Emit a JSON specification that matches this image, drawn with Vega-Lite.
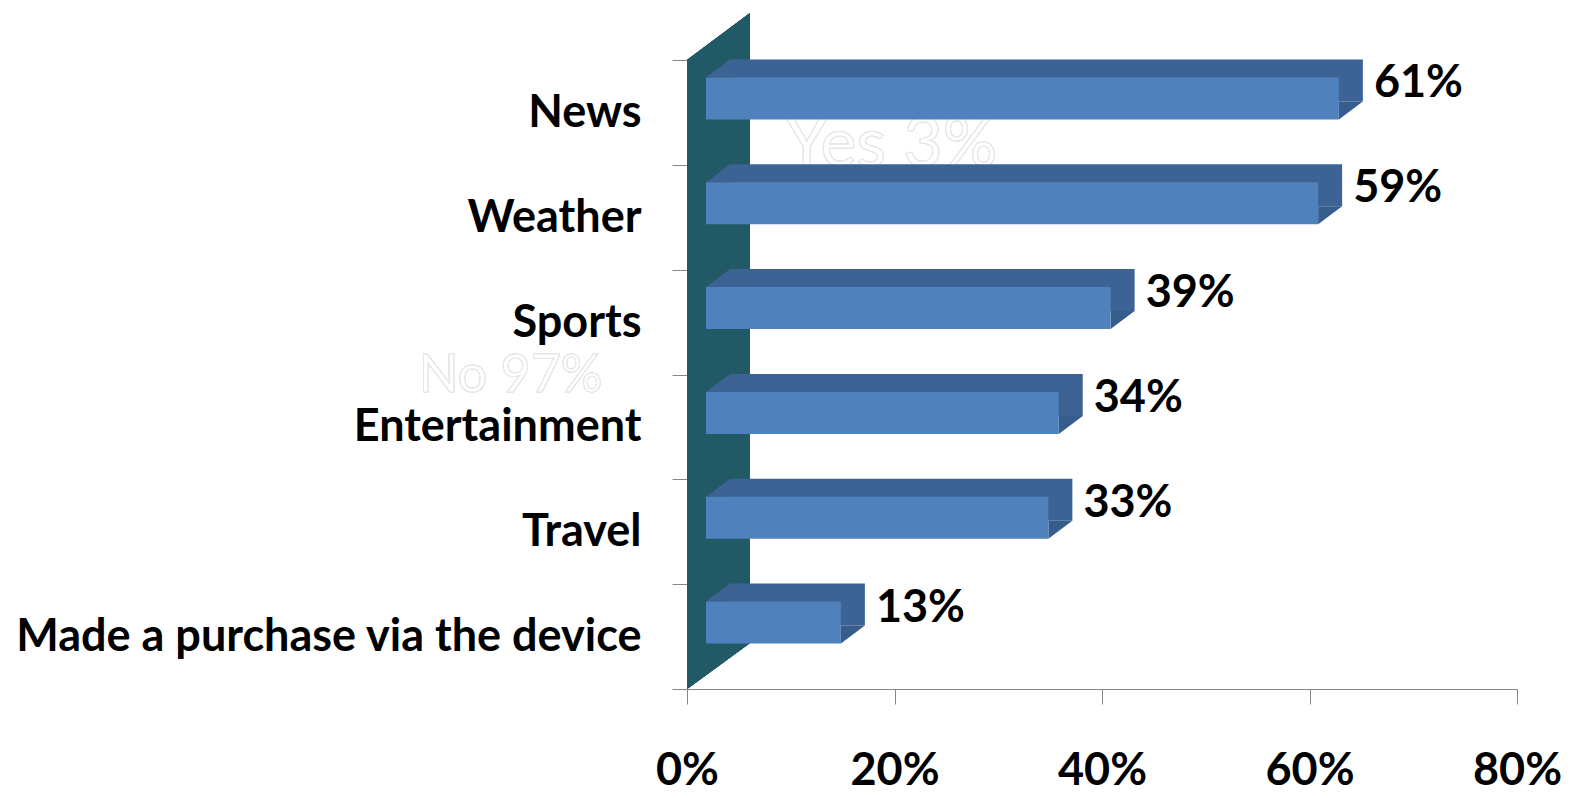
{
  "$schema": "https://vega.github.io/schema/vega-lite/v6.json",
  "width": 830,
  "height": 629,
  "autosize": {"type": "none"},
  "padding": {"left": 687, "top": 60, "right": 61, "bottom": 106},
  "background": "white",
  "config": {"view": {"stroke": null}, "font": "Lato"},
  "data": {
    "values": [
      {"cat": "News", "value": 61, "label": "61%"},
      {"cat": "Weather", "value": 59, "label": "59%"},
      {"cat": "Sports", "value": 39, "label": "39%"},
      {"cat": "Entertainment", "value": 34, "label": "34%"},
      {"cat": "Travel", "value": 33, "label": "33%"},
      {"cat": "Made a purchase via the device", "value": 13, "label": "13%"}
    ]
  },
  "encoding": {
    "y": {
      "field": "cat",
      "type": "nominal",
      "sort": null,
      "title": null,
      "scale": {
        "domain": ["News", "Weather", "Sports", "Entertainment", "Travel", "Made a purchase via the device"],
        "paddingInner": 0,
        "paddingOuter": 0
      },
      "axis": {
        "tickBand": "extent",
        "tickSize": 15,
        "tickColor": "#868686",
        "domainColor": "#868686",
        "labelFont": "Lato",
        "labelFontWeight": "bold",
        "labelFontSize": 45,
        "labelColor": "#000000",
        "labelPadding": 31,
        "labelLimit": 800
      }
    },
    "x": {
      "field": "value",
      "type": "quantitative",
      "title": null,
      "scale": {"domain": [0, 80], "nice": false},
      "axis": {
        "values": [0, 20, 40, 60, 80],
        "grid": false,
        "tickSize": 15,
        "tickColor": "#868686",
        "domainColor": "#868686",
        "labelExpr": "datum.value + '%'",
        "labelFont": "Lato",
        "labelFontWeight": "bold",
        "labelFontSize": 45,
        "labelColor": "#000000",
        "labelPadding": 44,
        "labelFlush": false
      }
    }
  },
  "layer": [
    {
      "mark": {"type": "text", "font": "Lato", "fontSize": 68, "fill": "#ffffff", "stroke": "#e6e6e6", "strokeWidth": 1, "align": "center", "baseline": "middle", "dy": 34},
      "encoding": {"x": {"datum": 19.7}, "y": {"datum": "News"}, "text": {"value": "Yes  3%"}}
    },
    {
      "mark": {"type": "text", "font": "Lato", "fontSize": 52, "fill": "#ffffff", "stroke": "#e6e6e6", "strokeWidth": 1, "align": "center", "baseline": "middle", "dy": 54},
      "encoding": {"x": {"datum": -17}, "y": {"datum": "Sports"}, "text": {"value": "No  97%"}}
    },
    {
      "mark": {"type": "point", "shape": "M0,-2.62L0.63,-3.09L0.63,3.21L0,3.67Z", "size": 40000, "filled": true, "color": "#215967", "opacity": 1, "strokeWidth": 0},
      "encoding": {"x": {"datum": 0}, "y": {"datum": "Sports"}}
    },
    {
      "mark": {"type": "bar", "color": "#3c6394", "height": {"band": 0.4}, "xOffset": 43, "x2Offset": 43, "yOffset": -32, "y2Offset": -32}
    },
    {
      "mark": {"type": "point", "shape": "M0.7917,-1.4583L1.7917,-2.2083L1.7917,-1.4583Z", "size": 2304, "filled": true, "color": "#3c6394", "opacity": 1, "strokeWidth": 0},
      "encoding": {"x": {"datum": 0}}
    },
    {
      "mark": {"type": "point", "shape": "M0.7917,-0.4583L0.7917,0.2917L1.7917,-0.4583Z", "size": 2304, "filled": true, "color": "#375d8c", "opacity": 1, "strokeWidth": 0}
    },
    {
      "mark": {"type": "bar", "color": "#4f81bd", "height": {"band": 0.4}, "xOffset": 19, "x2Offset": 19, "yOffset": -14, "y2Offset": -14}
    },
    {
      "mark": {"type": "text", "font": "Lato", "fontWeight": "bold", "fontSize": 45, "color": "#000000", "align": "left", "baseline": "middle", "dx": 54, "dy": -29},
      "encoding": {"text": {"field": "label"}}
    }
  ]
}
